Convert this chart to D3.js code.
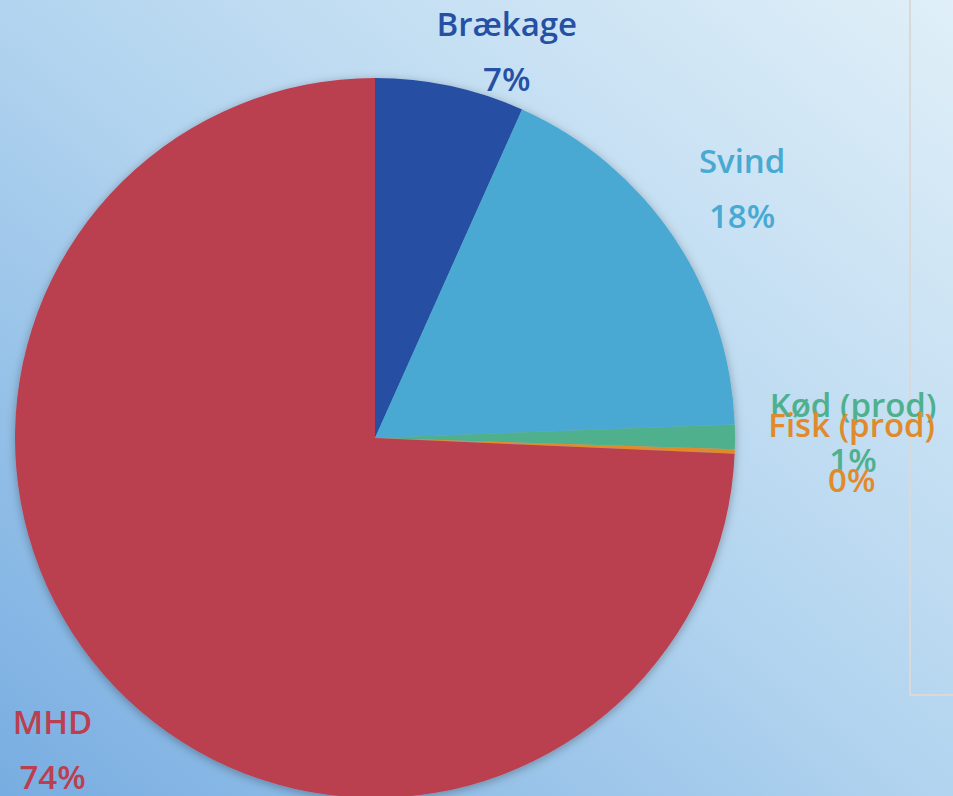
<!DOCTYPE html>
<html>
<head>
<meta charset="utf-8">
<script src="https://cdn.jsdelivr.net/npm/d3@7"></script>
<style>
  html, body { margin: 0; padding: 0; overflow: hidden; }
  svg { display: block; }
  .lbl { font-family: "Open Sans", "Noto Sans", sans-serif; font-size: 33px; font-weight: 600; }
</style>
</head>
<body>
<div id="chart"></div>
<script>
// categories and shares (percent)
var categories = ["Brækage", "Svind", "Kød (prod)", "Fisk (prod)", "MHD"];
var values = [6.7, 17.7, 1.1, 0.2, 74.3];
var pctLabels = ["7%", "18%", "1%", "0%", "74%"];
var colors = ["#2550a4", "#48a9d2", "#4fb08e", "#e08a2c", "#bb3f50"];

var svgW = 953;
var svgH = 796;
var cx = 375, cy = 438, radius = 360;
var labelR = 420;
// label nudges from the label-radius centroid
var nudge = [[44, 24], [19, -15], [58, -5], [57, -2], [-19, 21]];

var svg = d3.select("#chart")
    .append("svg")
    .attr("width", svgW)
    .attr("height", svgH);

var defs = svg.append("defs");
var grad = defs.append("linearGradient")
    .attr("id", "bg")
    .attr("x1", 1).attr("y1", 0)
    .attr("x2", 0).attr("y2", 1);
grad.append("stop").attr("offset", 0).attr("stop-color", "#e0eff8");
grad.append("stop").attr("offset", 0.5).attr("stop-color", "#b2d4ef");
grad.append("stop").attr("offset", 1).attr("stop-color", "#78ade1");

var filt = defs.append("filter")
    .attr("id", "shadow")
    .attr("x", "-10%").attr("y", "-10%")
    .attr("width", "120%").attr("height", "120%");
filt.append("feDropShadow")
    .attr("dx", 0).attr("dy", 2)
    .attr("stdDeviation", 5)
    .attr("flood-color", "#000")
    .attr("flood-opacity", 0.3);

svg.append("rect")
    .attr("width", svgW)
    .attr("height", svgH)
    .attr("fill", "url(#bg)");

// legend box edge on the right
svg.append("path")
    .attr("d", "M910,0 V695 H953")
    .attr("fill", "none")
    .attr("stroke", "#d9d9d9")
    .attr("stroke-width", 2);

var data = categories.map(function(c, i) {
    return { name: c, value: values[i], pct: pctLabels[i], color: colors[i] };
});

var pie = d3.pie()
    .sort(null)
    .value(function(d) { return d.value; });

var arcs = pie(data);

var arc = d3.arc().innerRadius(0).outerRadius(radius);
var labelArc = d3.arc().innerRadius(labelR).outerRadius(labelR);

var pieG = svg.append("g")
    .attr("transform", `translate(${cx}, ${cy})`);

pieG.append("g")
    .attr("filter", "url(#shadow)")
    .selectAll("path")
    .data(arcs)
    .enter()
    .append("path")
    .attr("d", arc)
    .attr("fill", function(d) { return d.data.color; });

var labelG = pieG.selectAll(".label")
    .data(arcs)
    .enter()
    .append("g")
    .attr("class", "label")
    .attr("transform", function(d, i) {
        var c = labelArc.centroid(d);
        return `translate(${c[0] + nudge[i][0]}, ${c[1] + nudge[i][1]})`;
    });

labelG.append("text")
    .attr("class", "lbl")
    .attr("text-anchor", "middle")
    .attr("y", -15)
    .attr("fill", function(d) { return d.data.color; })
    .text(function(d) { return d.data.name; });

labelG.append("text")
    .attr("class", "lbl")
    .attr("text-anchor", "middle")
    .attr("y", 40)
    .attr("fill", function(d) { return d.data.color; })
    .text(function(d) { return d.data.pct; });
</script>
</body>
</html>
